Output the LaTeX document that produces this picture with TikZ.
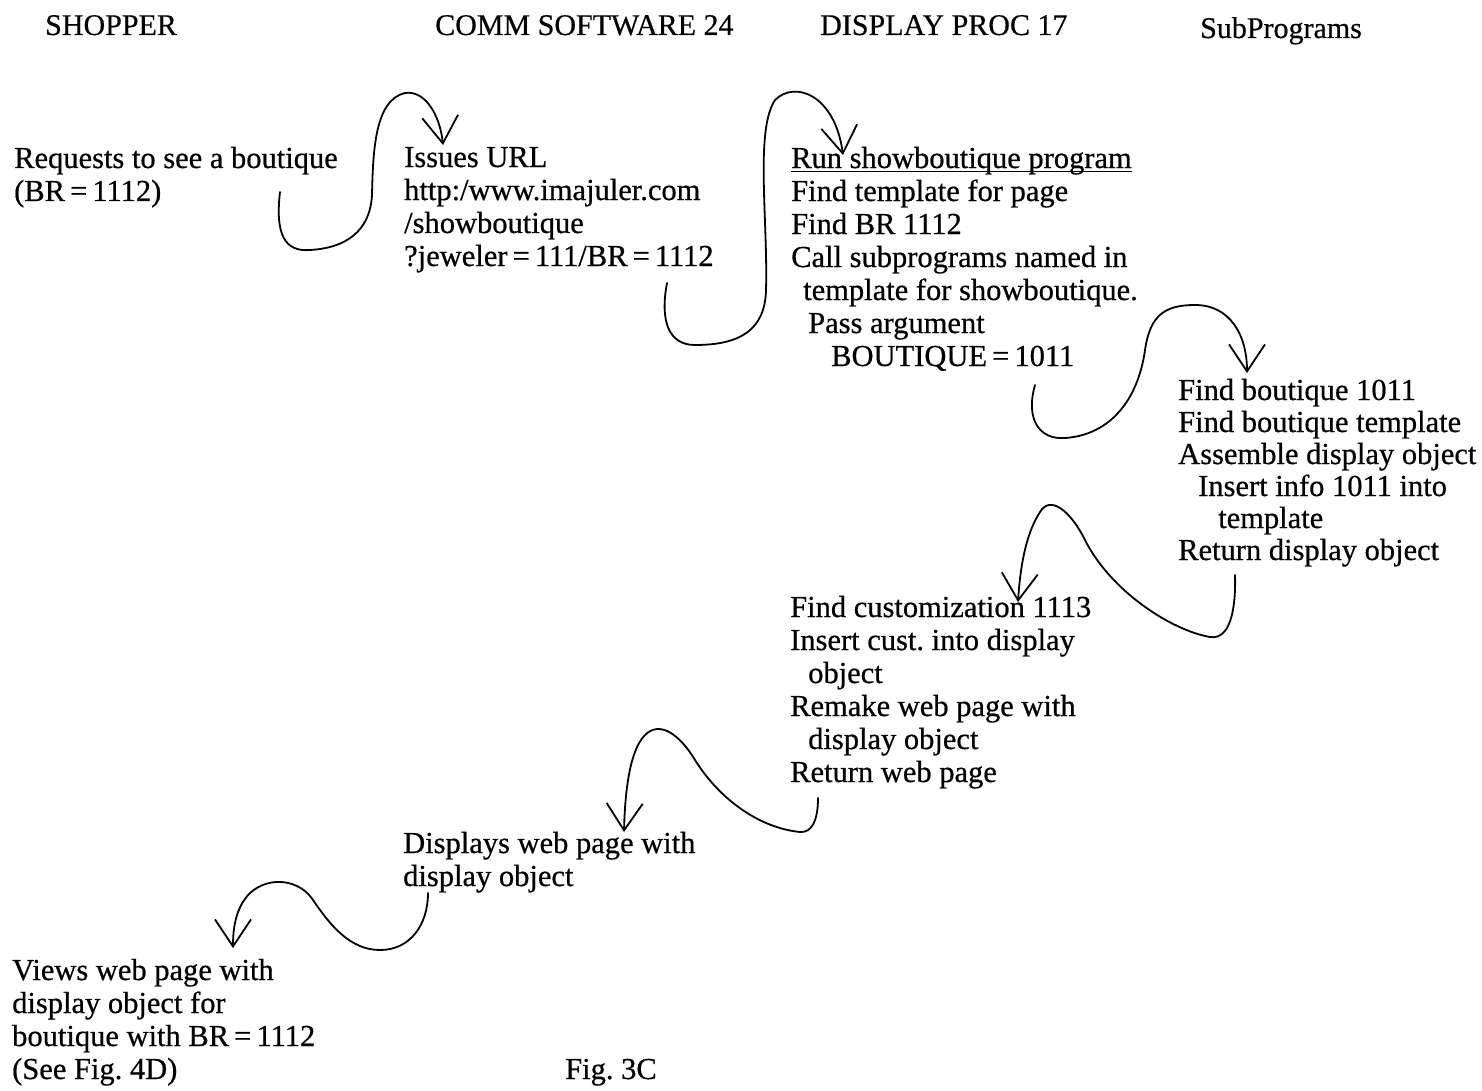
\documentclass[tikz,border=0pt]{standalone}
\usepackage{fontspec}
\setmainfont[FakeBold=0.5]{Liberation Serif}
\newfontfamily\bodyfont[FakeBold=0.6]{Liberation Serif}
\usetikzlibrary{arrows.meta}
\frenchspacing
\newcommand{\lowline}[1]{\setbox0\hbox{#1}\rlap{\rule[-4pt]{\wd0}{1.3pt}}\box0}

\begin{document}
\begin{tikzpicture}[x=1pt, y=-1pt,
  every node/.style={inner sep=0pt, anchor=base west, align=left, font=\bodyfont\fontsize{30.5}{33}\selectfont},
  heading/.style={font=\fontsize{30}{36}\selectfont},
  flow/.style={line width=1.8pt, line cap=round, -{Straight Barb[length=27pt, width=36pt, line width=1.8pt]}}]
  \useasboundingbox (0,0) rectangle (1482,1091);
  % Column headers
  \node[heading] (shopper) at (45,35) {SHOPPER};
  \node[heading] (comm) at (435,35) {COMM SOFTWARE 24};
  \node[heading] (proc) at (820,35) {DISPLAY PROC 17};
  \node[heading] (subprog) at (1200,38) {SubPrograms};
  % Steps (placed by the baseline of their last line)
  \node (req) at (14,201) {Requests to see a boutique\\(BR\,=\,1112)};
  \node (url) at (404,266) {Issues URL\\http:/www.imajuler.com\\/showboutique\\?jeweler\,=\,111/BR\,=\,1112};
  \node (run) at (791,366) {\lowline{Run showboutique program}\\Find template for page\\Find BR 1112\\Call subprograms named in\\\hspace*{12pt}template for showboutique.\\\hspace*{17pt}Pass argument\\\hspace*{40pt}BOUTIQUE\,=\,1011};
  \node[font=\bodyfont\fontsize{30.5}{32}\selectfont] (sub) at (1178,560) {Find boutique 1011\\Find boutique template\\Assemble display object\\\hspace*{20pt}Insert info 1011 into\\\hspace*{40pt}template\\Return display object};
  \node (cust) at (790,782) {Find customization 1113\\Insert cust. into display\\\hspace*{18pt}object\\Remake web page with\\\hspace*{18pt}display object\\Return web page};
  \node (disp) at (403,886) {Displays web page with\\display object};
  \node (views) at (12,1079) {Views web page with\\display object for\\boutique with BR\,=\,1112\\(See Fig. 4D)};
  \node (fig) at (565,1079) {Fig. 3C};
  % Hand-drawn connectors
  \draw[flow] ([shift={(266,-9)}]req.base west) .. controls (275,235) and (285,252) .. (310,250)
    .. controls (345,248) and (370,232) .. (372,195) .. controls (373,150) and (375,100) .. (405,93)
    .. controls (425,90) and (440,115) .. ([shift={(39,-121)}]url.base west);
  \draw[flow] ([shift={(263,17)}]url.base west) .. controls (660,320) and (668,345) .. (695,345)
    .. controls (740,345) and (765,330) .. (766,290) .. controls (768,220) and (755,130) .. (775,100)
    .. controls (795,80) and (835,95) .. ([shift={(52,-211)}]run.base west);
  \draw[flow] ([shift={(244,19)}]run.base west) .. controls (1025,420) and (1040,440) .. (1065,438)
    .. controls (1110,435) and (1138,400) .. (1145,350) .. controls (1150,315) and (1165,305) .. (1195,305)
    .. controls (1230,305) and (1247,335) .. ([shift={(69,-187)}]sub.base west);
  \draw[flow] ([shift={(57,15)}]sub.base west) .. controls (1236,610) and (1230,640) .. (1210,637)
    .. controls (1170,630) and (1110,590) .. (1085,540) .. controls (1070,510) and (1050,495) .. (1040,512)
    .. controls (1025,535) and (1020,570) .. ([shift={(228,-180)}]cust.base west);
  \draw[flow] ([shift={(28,16)}]cust.base west) .. controls (818,820) and (812,833) .. (800,832)
    .. controls (760,828) and (720,800) .. (695,760) .. controls (680,735) and (660,720) .. (645,735)
    .. controls (630,750) and (625,790) .. ([shift={(221,-54)}]disp.base west);
  \draw[flow] ([shift={(25,7)}]disp.base west) .. controls (428,925) and (410,950) .. (380,950)
    .. controls (350,950) and (330,925) .. (313,900) .. controls (300,880) and (270,875) .. (250,893)
    .. controls (235,908) and (233,930) .. ([shift={(221,-131)}]views.base west);
\end{tikzpicture}
\end{document}
